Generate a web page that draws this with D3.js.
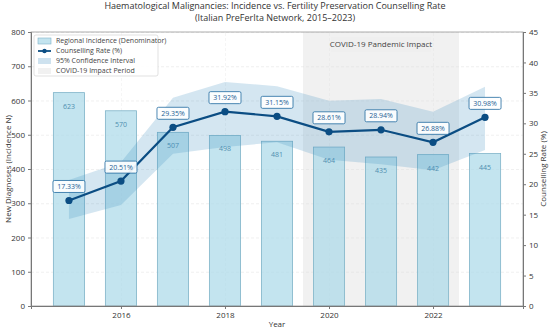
<!DOCTYPE html>
<html>
<head>
<meta charset="utf-8">
<script src="https://cdn.jsdelivr.net/npm/d3@7"></script>
<style>
  body { margin: 0; background: #fff; }
  svg { font-family: "Open Sans", Lato, sans-serif; }
</style>
</head>
<body>
<svg id="chart" width="550" height="332"></svg>
<script>
// data
const years = [2015, 2016, 2017, 2018, 2019, 2020, 2021, 2022, 2023];
const incidence = [623, 570, 507, 498, 481, 464, 435, 442, 445];
const rate = [17.33, 20.51, 29.35, 31.92, 31.15, 28.61, 28.94, 26.88, 30.98];
const ciLow = [14.3, 16.6, 25.0, 26.1, 26.9, 24.0, 23.3, 22.3, 25.6];
const ciHigh = [20.7, 23.6, 34.2, 36.8, 36.1, 33.7, 34.0, 31.9, 36.0];
const covidSpan = [2019.5, 2022.5];
const xTicks = [2016, 2018, 2020, 2022];

const svg = d3.select("#chart");
const margin = {top: 32, right: 27, bottom: 26, left: 31};
const width = 550 - margin.left - margin.right;
const height = 332 - margin.top - margin.bottom;

const x = d3.scaleLinear().domain([2014.27, 2023.73]).range([0, width]);
const yLeft = d3.scaleLinear().domain([0, 800]).range([height, 0]);
const yRight = d3.scaleLinear().domain([0, 45]).range([height, 0]);

// title
svg.append("text")
    .attr("x", 275).attr("y", 9)
    .attr("text-anchor", "middle")
    .style("font-size", "9px").style("fill", "#333")
    .text("Haematological Malignancies: Incidence vs. Fertility Preservation Counselling Rate");
svg.append("text")
    .attr("x", 275).attr("y", 21)
    .attr("text-anchor", "middle")
    .style("font-size", "9px").style("fill", "#333")
    .text("(Italian PreFerIta Network, 2015\u20132023)");

const g = svg.append("g")
    .attr("transform", `translate(${margin.left},${margin.top})`);

// gridlines
g.append("g")
    .attr("class", "grid")
    .call(d3.axisLeft(yLeft).ticks(8).tickSize(-width).tickFormat(""))
    .call(s => s.select(".domain").remove())
    .selectAll("line")
    .style("stroke", "#e6e6e6").style("stroke-dasharray", "3,2").style("stroke-width", 0.6);
g.append("g")
    .attr("transform", `translate(0,${height})`)
    .call(d3.axisBottom(x).tickValues(xTicks).tickSize(-height).tickFormat(""))
    .call(s => s.select(".domain").remove())
    .selectAll("line")
    .style("stroke", "#eeeeee").style("stroke-dasharray", "3,2").style("stroke-width", 0.6);

// covid period
g.append("rect")
    .attr("x", x(covidSpan[0]))
    .attr("y", 0)
    .attr("width", x(covidSpan[1]) - x(covidSpan[0]))
    .attr("height", height)
    .style("fill", "#dcdcdc").style("opacity", 0.4);

// bars
const barW = x(2015.6) - x(2015);
g.selectAll(".bar")
    .data(years)
    .join("rect")
    .attr("class", "bar")
    .attr("x", (d) => x(d) - barW / 2)
    .attr("y", (d, i) => yLeft(incidence[i]))
    .attr("width", barW)
    .attr("height", (d, i) => height - yLeft(incidence[i]))
    .style("fill", "#a9d8e8").style("fill-opacity", 0.7)
    .style("stroke", "#7fb3c8").style("stroke-width", 0.8);

g.selectAll(".barLabel")
    .data(years)
    .join("text")
    .attr("class", "barLabel")
    .attr("x", (d) => x(d))
    .attr("y", (d, i) => yLeft(incidence[i]) + 16)
    .attr("text-anchor", "middle")
    .style("font-size", "7px").style("fill", "#4f8fb0")
    .text((d, i) => incidence[i]);

// confidence band
const band = d3.area()
    .x((d) => x(d))
    .y0((d, i) => yRight(ciLow[i]))
    .y1((d, i) => yRight(ciHigh[i]));
g.append("path")
    .datum(years)
    .attr("d", band)
    .style("fill", "#3a8cbf").style("fill-opacity", 0.22);

// rate line
const line = d3.line()
    .x((d) => x(d))
    .y((d, i) => yRight(rate[i]));
g.append("path")
    .datum(years)
    .attr("d", line)
    .style("fill", "none").style("stroke", "#0b4d83").style("stroke-width", 2.2);
g.selectAll(".pt")
    .data(years)
    .join("circle")
    .attr("class", "pt")
    .attr("cx", (d) => x(d))
    .attr("cy", (d, i) => yRight(rate[i]))
    .attr("r", 3.6)
    .style("fill", "#0b4d83");

// point labels
const lab = g.selectAll(".ptLabel")
    .data(years)
    .join("g")
    .attr("class", "ptLabel")
    .attr("transform", (d, i) => `translate(${x(d)},${yRight(rate[i]) - 14})`);
lab.append("rect")
    .attr("x", -16).attr("y", -6)
    .attr("width", 32).attr("height", 12)
    .attr("rx", 1.5)
    .style("fill", "#fff").style("fill-opacity", 0.9)
    .style("stroke", "#1f6aa0").style("stroke-width", 0.8);
lab.append("text")
    .attr("text-anchor", "middle")
    .attr("dy", "0.35em")
    .style("font-size", "7px").style("fill", "#1f5f95")
    .text((d, i) => rate[i].toFixed(2) + "%");

// covid annotation
const cx = (x(covidSpan[0]) + x(covidSpan[1])) / 2;
g.append("rect")
    .attr("x", cx - 50).attr("y", 5)
    .attr("width", 100).attr("height", 15)
    .style("fill", "#efefef");
g.append("text")
    .attr("x", cx).attr("y", 12.5)
    .attr("dy", "0.35em")
    .attr("text-anchor", "middle")
    .style("font-size", "8px").style("fill", "#444")
    .text("COVID-19 Pandemic Impact");

// frame
g.append("rect")
    .attr("width", width).attr("height", height)
    .style("fill", "none").style("stroke", "#999").style("stroke-width", 0.8);

// axes
const styleAxis = (s) => {
    s.select(".domain").style("stroke", "#777");
    s.selectAll(".tick line").style("stroke", "#777");
    s.selectAll("text").style("font-size", "8px").style("fill", "#333")
        .style("font-family", "\"Open Sans\", Lato, sans-serif");
};
g.append("g")
    .call(d3.axisLeft(yLeft).ticks(8).tickSize(3))
    .call(styleAxis);
g.append("g")
    .attr("transform", `translate(${width},0)`)
    .call(d3.axisRight(yRight).ticks(9).tickSize(3))
    .call(styleAxis);
g.append("g")
    .attr("transform", `translate(0,${height})`)
    .call(d3.axisBottom(x).tickValues(xTicks).tickFormat(d3.format("d")).tickSize(3))
    .call(styleAxis);

// axis titles
svg.append("text")
    .attr("transform", `translate(11,${margin.top + height / 2}) rotate(-90)`)
    .attr("text-anchor", "middle")
    .style("font-size", "8px").style("fill", "#333")
    .text("New Diagnoses (Incidence N)");
svg.append("text")
    .attr("transform", `translate(546,${margin.top + height / 2}) rotate(-90)`)
    .attr("text-anchor", "middle")
    .style("font-size", "8px").style("fill", "#333")
    .text("Counselling Rate (%)");
svg.append("text")
    .attr("x", margin.left + width / 2).attr("y", 327)
    .attr("text-anchor", "middle")
    .style("font-size", "8px").style("fill", "#333")
    .text("Year");

// legend
const legend = g.append("g").attr("transform", "translate(3,3)");
legend.append("rect")
    .attr("width", 124).attr("height", 41)
    .attr("rx", 2)
    .style("fill", "#fff").style("fill-opacity", 0.85)
    .style("stroke", "#ccc").style("stroke-width", 0.6);
const legendItems = ["Regional Incidence (Denominator)", "Counselling Rate (%)",
    "95% Confidence Interval", "COVID-19 Impact Period"];
const li = legend.selectAll(".li")
    .data(legendItems)
    .join("g")
    .attr("class", "li")
    .attr("transform", (d, i) => `translate(4,${6 + i * 10})`);
li.append("text")
    .attr("x", 18).attr("dy", "0.35em")
    .style("font-size", "7px").style("fill", "#444")
    .text((d) => d);
li.filter((d, i) => i !== 1).append("rect")
    .attr("x", 0).attr("y", -3)
    .attr("width", 13).attr("height", 6)
    .style("fill", (d, i) => ["#a9d8e8", "#3a8cbf", "#dcdcdc"][i])
    .style("fill-opacity", (d, i) => [0.7, 0.25, 0.4][i])
    .style("stroke", (d, i) => i === 0 ? "#7fb3c8" : "none")
    .style("stroke-width", 0.6);
const lineItem = li.filter((d, i) => i === 1);
lineItem.append("line")
    .attr("x1", 0).attr("x2", 13)
    .style("stroke", "#0b4d83").style("stroke-width", 1.8);
lineItem.append("circle")
    .attr("cx", 6.5).attr("r", 2.2)
    .style("fill", "#0b4d83");
</script>
</body>
</html>
